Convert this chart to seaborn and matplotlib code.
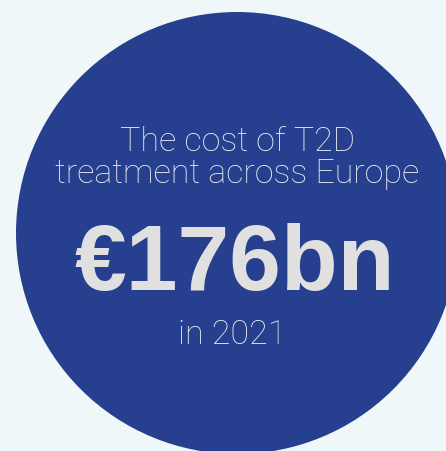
import matplotlib
matplotlib.use("Agg")
import matplotlib.pyplot as plt
from matplotlib.patches import Circle
import seaborn as sns

# Data
cost_bn = 176
year = 2021
title_lines = ["The cost of T2D", "treatment across Europe"]

BG = "#EFF7F9"
BLUE = "#263F8E"
TXT = "#ECECF0"

sns.set_theme(style="white")
plt.rcParams['font.family'] = ['Roboto', 'DejaVu Sans']

fig = plt.figure(figsize=(4.46, 4.52), dpi=100, facecolor=BG)
ax = fig.add_axes([0, 0, 1, 1])
ax.set_facecolor(BG)
ax.set_xlim(0, 446)
ax.set_ylim(452, 0)
ax.set_axis_off()

ax.add_patch(Circle((237, 234), 221, color=BLUE, lw=0))

ax.text(237, 151, title_lines[0], ha="center", va="baseline", fontsize=24.5,
        color=TXT, fontweight="light")
ax.text(237, 183, title_lines[1], ha="center", va="baseline", fontsize=24.5,
        color=TXT, fontweight="light")
ax.text(235, 290, f"€{cost_bn}bn", ha="center", va="baseline", fontsize=67,
        color="#E0E0E0", fontweight="bold", family=["Liberation Sans", "DejaVu Sans"])
ax.text(232, 344, f"in {year}", ha="center", va="baseline", fontsize=24.5,
        color=TXT, fontweight="light")

fig.savefig("out.png", dpi=100, facecolor=BG)
